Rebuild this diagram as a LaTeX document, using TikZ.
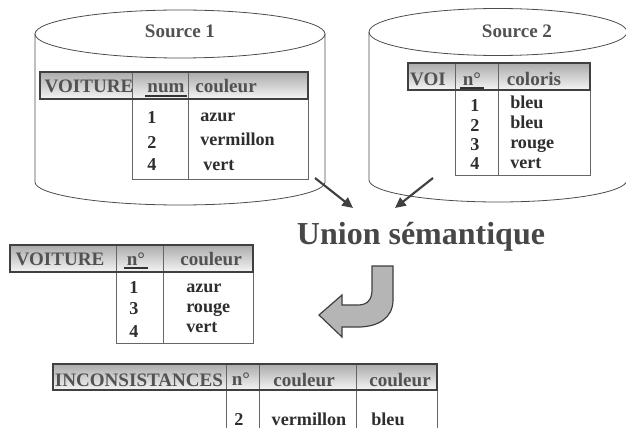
\documentclass[tikz,border=0pt]{standalone}
\usepackage{fontspec}
\setmainfont{Liberation Serif}
\usetikzlibrary{arrows.meta}

\tikzset{
  can/.style={draw=black!70, line width=0.6},
  headbar/.style={top color=gray!66, bottom color=gray!8},
  headedge/.style={draw=black!75, line width=0.9},
  bodyframe/.style={draw=black!60, line width=0.75},
  headtxt/.style={text=black!68, font=\fontsize{14.3}{16}\selectfont\bfseries, inner sep=0.75pt, anchor=base},
  celltxt/.style={text=black!82, font=\fontsize{13.6}{15}\selectfont\bfseries, inner sep=0.75pt},
  uline/.style={draw=black!80, line width=1.6},
  feed/.style={draw=black!75, line width=1.6, -{Triangle[length=8pt, width=7.5pt]}},
  bigarrow/.style={draw=black!75, line width=0.9, fill=gray!58},
}

\begin{document}
\begin{tikzpicture}[x=0.75pt,y=0.75pt,yscale=-1,xscale=1]
\useasboundingbox (0,0) rectangle (626,428);

%Shape: Can
\draw [can] (35,34) -- (35,182) arc [start angle=180, end angle=0, x radius=145, y radius=23] -- (325,34) ;
\draw [can] (180,34) ellipse [x radius=145, y radius=24] ;
%Shape: Can
\draw [can] (369,32) -- (369,180) arc [start angle=180, end angle=0, x radius=129, y radius=22] -- (627,32) ;
\draw [can] (498,32) ellipse [x radius=129, y radius=23.5] ;

% Text Node
\node (src1) [headtxt] at (180,38) {Source 1};
% Text Node
\node (src2) [headtxt] at (517,38) {Source 2};

%Table: VOITURE (source 1)
\shade [headbar] (40,72) rectangle (308,99) ;
\draw [bodyframe] (132,72) rectangle (308,180) ;
\draw [bodyframe] (188,72) -- (188,180) ;
\draw [headedge] (40,72) rectangle (308,99) ;
\node (t1name) [headtxt] at (89,93) {VOITURE};
\node (t1num) [headtxt, inner sep=1.6pt] at (166,93) {num};
\draw [uline] (t1num.south west) -- (t1num.south east) ;
\node (t1col) [headtxt] at (226,93) {couleur};
\node (t1r1) [celltxt, anchor=base] at (152,124) {1};
\node (t1r2) [celltxt, anchor=base] at (152,149) {2};
\node (t1r3) [celltxt, anchor=base] at (152,171) {4};
\node (t1c1) [celltxt, anchor=base west] at (199,122) {azur};
\node (t1c2) [celltxt, anchor=base west] at (199,146) {vermillon};
\node (t1c3) [celltxt, anchor=base west] at (202,171) {vert};

%Table: VOI (source 2)
\shade [headbar] (408,63) rectangle (590,90) ;
\draw [bodyframe] (455,63) rectangle (590,176) ;
\draw [bodyframe] (498,63) -- (498,176) ;
\draw [headedge] (408,63) rectangle (590,90) ;
\node (t2name) [headtxt] at (428,86) {VOI};
\node (t2num) [headtxt, inner sep=1.6pt] at (472,86) {n°};
\draw [uline] (t2num.south west) -- (t2num.south east) ;
\node (t2col) [headtxt] at (534,86) {coloris};
\node (t2r1) [celltxt, anchor=base] at (475,112) {1};
\node (t2r2) [celltxt, anchor=base] at (475,132) {2};
\node (t2r3) [celltxt, anchor=base] at (475,151) {3};
\node (t2r4) [celltxt, anchor=base] at (475,170) {4};
\node (t2c1) [celltxt, anchor=base west] at (509,109) {bleu};
\node (t2c2) [celltxt, anchor=base west] at (509,129) {bleu};
\node (t2c3) [celltxt, anchor=base west] at (509,149) {rouge};
\node (t2c4) [celltxt, anchor=base west] at (509,169) {vert};

% Text Node
\node (union) [text=black!72, font=\fontsize{24}{26}\selectfont\bfseries, inner sep=0.75pt] at (421,237) {Union sémantique};
\coordinate (from1) at (315,178) ;
\coordinate (from2) at (433,178) ;
\coordinate (into1) at (353,208) ;
\coordinate (into2) at (395,208) ;
%Straight Lines
\draw [feed] (from1) -- (into1) ;
\draw [feed] (from2) -- (into2) ;

%Shape: Curved Arrow
\draw [bigarrow] (372,266) -- (393,266) -- (393,300)
  .. controls (393,318) and (378,327) .. (358,327) -- (342,327) -- (342,337) -- (319,315)
  -- (342,295) -- (342,305) -- (358,305) .. controls (367,305) and (372,300) .. (372,290) -- cycle ;

%Table: VOITURE (union)
\shade [headbar] (10,245) rectangle (253,272) ;
\draw [bodyframe] (116,245) rectangle (253,343) ;
\draw [bodyframe] (163,245) -- (163,343) ;
\draw [headedge] (10,245) rectangle (253,272) ;
\node (t3name) [headtxt] at (60,266) {VOITURE};
\node (t3num) [headtxt, inner sep=1.6pt] at (136,266) {n°};
\draw [uline] (t3num.south west) -- (t3num.south east) ;
\node (t3col) [headtxt] at (211,266) {couleur};
\node (t3r1) [celltxt, anchor=base] at (134,294) {1};
\node (t3r2) [celltxt, anchor=base] at (134,315) {3};
\node (t3r3) [celltxt, anchor=base] at (134,337) {4};
\node (t3c1) [celltxt, anchor=base west] at (185,292) {azur};
\node (t3c2) [celltxt, anchor=base west] at (185,312) {rouge};
\node (t3c3) [celltxt, anchor=base west] at (185,333) {vert};

%Table: INCONSISTANCES
\shade [headbar] (53,364) rectangle (437,390) ;
\draw [bodyframe] (226,364) -- (226,430) ;
\draw [bodyframe] (259,364) -- (259,430) ;
\draw [bodyframe] (356,364) -- (356,430) ;
\draw [bodyframe] (437,364) -- (437,430) ;
\draw [headedge] (53,364) rectangle (437,390) ;
\node (t4name) [headtxt] at (139,387) {INCONSISTANCES};
\node (t4num) [headtxt] at (241,385) {n°};
\node (t4col1) [headtxt] at (304,387) {couleur};
\node (t4col2) [headtxt] at (400,387) {couleur};
\node (t4r1) [celltxt, anchor=base] at (239,425) {2};
\node (t4c1) [celltxt, anchor=base] at (309,425) {vermillon};
\node (t4c2) [celltxt, anchor=base] at (388,425) {bleu};

\end{tikzpicture}
\end{document}
